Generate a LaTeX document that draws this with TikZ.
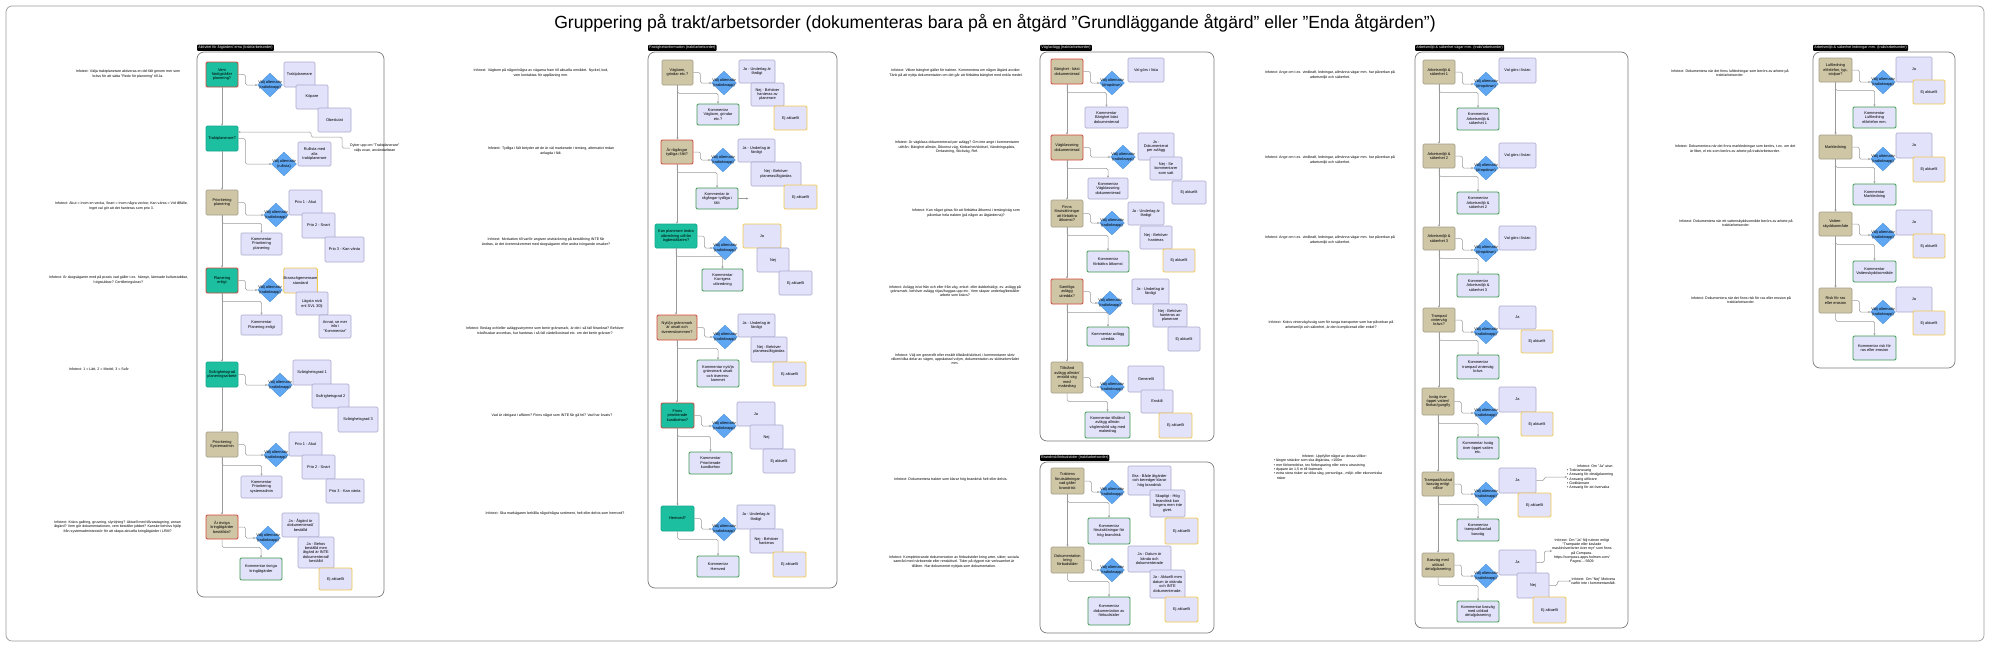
\documentclass[tikz,border=0pt]{standalone}
\usepackage{fontspec}
\setmainfont{Liberation Sans}
\usetikzlibrary{shapes.geometric,arrows.meta,calc}
\definecolor{cteal}{HTML}{1CBFA0}
\definecolor{ctealb}{HTML}{16A78B}
\definecolor{ctan}{HTML}{CFC6A6}
\definecolor{ctanb}{HTML}{A39D88}
\definecolor{cred}{HTML}{D2463A}
\definecolor{clav}{HTML}{E3E2FB}
\definecolor{clavb}{HTML}{A9A7CB}
\definecolor{cyel}{HTML}{F2C94C}
\definecolor{cgreen}{HTML}{3C9A50}
\definecolor{cdia}{HTML}{5FA7F2}
\definecolor{cline}{HTML}{9A9A9A}
\definecolor{cpanel}{HTML}{7A7A7A}
\newcommand{\myboxfont}{\fontsize{3.9}{4.4}\selectfont}
\newcommand{\myinfofont}{\fontsize{3.6}{4.3}\selectfont}
\newcommand{\mylabelfont}{\fontsize{3.7}{4.2}\selectfont}
\tikzset{
 bxbase/.style={draw, line width=0.6pt, rounded corners=1.2pt, align=center, inner sep=0pt, font=\myboxfont},
 qteal/.style={bxbase, fill=cteal, draw=ctealb},
 qtealr/.style={bxbase, fill=cteal, draw=cred, line width=0.9pt},
 qtan/.style={bxbase, fill=ctan, draw=ctanb},
 qtanr/.style={bxbase, fill=ctan, draw=cred, line width=0.9pt},
 opt/.style={bxbase, fill=clav, draw=clavb},
 opty/.style={bxbase, fill=clav, draw=cyel, line width=0.9pt},
 comg/.style={bxbase, fill=clav, draw=cgreen, line width=0.9pt},
 com/.style={bxbase, fill=clav, draw=clavb},
 dia/.style={diamond, draw=cdia!85!black, line width=0.3pt, fill=cdia, minimum width=25pt, minimum height=24pt, inner sep=0pt},
 dtext/.style={font=\myboxfont, align=center, inner sep=0pt},
 con/.style={draw=cline, line width=0.5pt, -{Stealth[length=2.2pt,width=2.2pt]}, rounded corners=1.5pt},
 info/.style={font=\myinfofont, align=center, inner sep=0pt},
 plabel/.style={fill=black, text=white, font=\mylabelfont, inner sep=1.2pt, rounded corners=0.8pt, anchor=south west},
 panel/.style={draw=cpanel, line width=0.7pt, rounded corners=7pt},
}
\newcommand{\bx}[7]{%
 \pgfmathsetmacro{\myW}{#5-#3}%
 \pgfmathsetmacro{\myH}{#6-#4}%
 \pgfmathsetmacro{\myX}{(#3+#5)/2}%
 \pgfmathsetmacro{\myY}{(#4+#6)/2}%
 \node[#2, minimum width=\myW pt, minimum height=\myH pt] (#1) at (\myX,\myY) {#7};}
\newcommand{\dm}[4]{\node[dia] (#1) at (#2,#3) {}; \node[dtext] (#1t) at (#1) {Välj alternativ\\(#4)};}
\newcommand{\qd}[2]{\draw[con] (#1.east) -- ++(7,0) |- (#2.west);}
\newcommand{\qc}[2]{\draw[con] (#1.south) -- ++(0,8) -| (#2.north);}
\newcommand{\qq}[2]{\draw[con] (#1.south) -- (#1.south |- #2.north);}
\newcommand{\inft}[5]{\node[info,#4] (#1) at (#2,#3) {#5};}
\begin{document}
\begin{tikzpicture}[x=1pt,y=-1pt]
\useasboundingbox (0,0) rectangle (1990,654);
\draw[draw=cline, line width=0.7pt, rounded corners=6pt] (6,6) rectangle (1984,641);
\node (title) at (995,23) {\fontsize{17.6}{20}\selectfont Gruppering på trakt/arbetsorder (dokumenteras bara på en åtgärd "Grundläggande åtgärd" eller "Enda åtgärden")};

% ================= Panel 1
\draw[panel] (197,52) rectangle (384,597);
\node[plabel] (p1l) at (197,51) {Aktivitet för åtgärden/-erna (trakt/arbetsorder)};
\bx{a1o1}{opt}{284}{62}{315}{87}{Traktplanerare}
\bx{a1o2}{opt}{296}{85}{328}{109}{Köpare}
\bx{a1o3}{opt}{318}{108}{351}{132}{Obeslutat}
\bx{a1}{qtealr}{206}{62}{238}{87}{Vem\\färdigställer\\planering?}
\dm{a1d}{270}{85}{radioknapp}
\bx{a2o1}{opt}{298}{142}{331}{166}{Rullista med\\alla\\traktplanerare}
\bx{a2}{qteal}{206}{126}{238}{151}{Traktplanerare?}
\dm{a2d}{284}{164}{rullista}
\node[anchor=west, info] (a2n) at (350,148) {Dyker upp om "Traktplanerare"\\väljs ovan, användarlistan};
\bx{a3o1}{opt}{289}{190}{322}{215}{Prio 1 - Akut}
\bx{a3o2}{opt}{302}{213}{335}{238}{Prio 2 - Snart}
\bx{a3o3}{opt}{325}{237}{364}{262}{Prio 3 - Kan vänta}
\bx{a3}{qtan}{206}{190}{238}{215}{Prioritering\\planering}
\dm{a3d}{276}{215}{radioknapp}
\bx{a3c}{com}{241}{233}{282}{255}{Kommentar\\Prioritering\\planering}
\bx{a4o1}{opty}{284}{268}{317}{293}{Branschgemensam\\standard}
\bx{a4o2}{opt}{296}{292}{328}{315}{Lägsta nivå\\enl SVL 30§}
\bx{a4o3}{opt}{319}{315}{351}{338}{Annat, se mer\\info i\\"Kommentar"}
\bx{a4}{qtealr}{206}{268}{238}{293}{Planering\\enligt}
\dm{a4d}{270}{290}{radioknapp}
\bx{a4c}{com}{241}{315}{282}{335}{Kommentar\\Planering enligt}
\bx{a5o1}{opt}{293}{360}{331}{385}{Svårighetsgrad 1}
\bx{a5o2}{opt}{312}{384}{349}{408}{Svårighetsgrad 2}
\bx{a5o3}{opt}{338}{407}{378}{432}{Svårighetsgrad 3}
\bx{a5}{qteal}{206}{362}{238}{387}{Svårighetsgrad\\planeringsarbete}
\dm{a5d}{280}{385}{radioknapp}
\bx{a6o1}{opt}{289}{432}{322}{456}{Prio 1 - Akut}
\bx{a6o2}{opt}{302}{455}{335}{479}{Prio 2 - Snart}
\bx{a6o3}{opt}{326}{479}{364}{503}{Prio 3 - Kan vänta}
\bx{a6}{qtan}{206}{432}{238}{457}{Prioritering\\Systemadmin}
\dm{a6d}{276}{455}{radioknapp}
\bx{a6c}{com}{241}{476}{282}{498}{Kommentar\\Prioritering\\systemadmin}
\bx{a7o1}{opt}{282}{513}{319}{537}{Ja - Åtgärd är\\dokumenterad/\\beställd}
\bx{a7o2}{opt}{298}{537}{334}{568}{Ja - Behov\\beställd men\\åtgärd är INTE\\dokumenterad/\\beställd}
\bx{a7o3}{opty}{319}{568}{352}{590}{Ej aktuellt}
\bx{a7}{qtanr}{206}{515}{238}{539}{Är övriga\\kringåtgärder\\beställda?}
\dm{a7d}{268}{538}{radioknapp}
\bx{a7c}{comg}{240}{558}{282}{580}{Kommentar övriga\\kringåtgärder}
\qq{a1}{a2}\qq{a2}{a3}\qq{a3}{a4}\qq{a4}{a5}\qq{a5}{a6}\qq{a6}{a7}
\qd{a1}{a1d}\qd{a2}{a2d}\qd{a3}{a3d}\qd{a4}{a4d}\qd{a5}{a5d}\qd{a6}{a6d}\qd{a7}{a7d}
\qc{a3}{a3c}\qc{a4}{a4c}\qc{a6}{a6c}\qc{a7}{a7c}
\coordinate (k1) at (0,132);
\draw[con] (a2n.west) -- (342,148) -- (342,137) -- (311,137) -- (311,132) -- (a2.east |- k1);

% text column 1
\inft{t1a}{128}{74}{}{Infotext: Välja traktplanerare aktiveras en del fält genom mer som\\krävs för att sätta "Redo för planering" till Ja.}
\inft{t1b}{188}{206}{anchor=east}{Infotext: Akut = Inom en vecka, Snart = Inom några veckor, Kan vänta = Vid tillfälle.\\Inget val gör att det hanteras som prio 3.}
\inft{t1c}{188}{280}{anchor=east}{Infotext: Är skogsägaren med på praxis vad gäller t.ex. hänsyn, lämnade kulturstubbar,\\högstubbar? Certifieringskrav?}
\inft{t1d}{99}{369}{}{Infotext: 1 = Lätt, 2 = Medel, 3 = Svår}
\inft{t1e}{181}{527}{anchor=east}{Infotext: Krävs gallring, gruvning, slyröjning? Aktuell med tillvaratagning, annan\\åtgärd? Vem gör dokumentationen, vem beställer jobbet? Kanske behövs hjälp\\från systemadministratör för att skapa aktuella kringåtgärder i LRM?}

% text column 2
\inft{t2a}{541}{73}{}{Infotext: Vägbom på någon/några av vägarna fram till aktuella området. Nyckel, kod,\\vem kontaktas för upplåsning mm.}
\inft{t2b}{551}{151}{}{Infotext: Tydliga i fält betyder att de är väl markerade i terräng, alternativt redan\\anlagda i fält.}
\inft{t2c}{546}{242}{}{Infotext: Motivation till varför angiven utsträckning på beställning INTE får\\ändras, är det överenskommet med skogsägaren eller andra tvingande orsaker?}
\inft{t2d}{545}{331}{}{Infotext: Beslag och/eller avläggsutrymme som berör gränsmark, är det i så fall förankrat? Behöver\\träd/buskar avverkas, hur hanteras i så fall värde/kostnad etc. om det berör gränser?}
\inft{t2e}{552}{415}{}{Vad är viktigast i affären? Finns något som INTE får gå fel? Vad har lovats?}
\inft{t2f}{555}{513}{}{Infotext: Ska markägaren behålla något/några sortiment, helt eller delvis som hemved?}

% ================= Panel 2
\draw[panel] (648,52) rectangle (837,588);
\node[plabel] (p2l) at (648,51) {Fastighetsinformation (trakt/arbetsorder)};
\bx{b1o1}{opt}{739}{60}{775}{83}{Ja - Underlag är\\färdigt}
\bx{b1o2}{opt}{751}{83}{784}{106}{Nej - Behöver\\hanteras av\\planerare}
\bx{b1o3}{opty}{774}{106}{807}{130}{Ej aktuellt}
\bx{b1}{qtan}{662}{60}{693}{85}{Vägbom,\\grindar etc.?}
\dm{b1d}{724}{83}{radioknapp}
\bx{b1c}{comg}{697}{104}{739}{125}{Kommentar\\Vägbom, grindar\\etc.?}
\bx{b2o1}{opt}{738}{139}{775}{162}{Ja - Underlag är\\färdigt}
\bx{b2o2}{opt}{751}{162}{801}{186}{Nej - Behöver\\planeras/åtgärdas}
\bx{b2o3}{opty}{784}{185}{817}{209}{Ej aktuellt}
\bx{b2}{qtanr}{661}{140}{693}{164}{Är rågångar\\tydliga i fält?}
\dm{b2d}{723}{160}{radioknapp}
\bx{b2c}{comg}{696}{188}{738}{209}{Kommentar är\\rågångar tydliga i\\fält}
\coordinate (b2ce) at ($(b2c.east)+(10,0)$);
\draw[con] (b2c.east) -- (b2ce);
\bx{b3o1}{opty}{743}{224}{781}{248}{Ja}
\bx{b3o2}{opt}{757}{248}{789}{272}{Nej}
\bx{b3o3}{opt}{779}{271}{812}{295}{Ej aktuellt}
\bx{b3}{qteal}{655}{224}{697}{248}{Kan planerare ändra\\utbredning utifrån\\lagbeställaren?}
\dm{b3d}{725}{248}{radioknapp}
\bx{b3c}{comg}{702}{269}{743}{291}{Kommentar\\Korrigera\\utbredning}
\bx{b4o1}{opt}{738}{314}{775}{337}{Ja - Underlag är\\färdigt}
\bx{b4o2}{opt}{751}{337}{787}{362}{Nej - Behöver\\planeras/åtgärdas}
\bx{b4o3}{opty}{773}{362}{806}{386}{Ej aktuellt}
\bx{b4}{qtanr}{657}{315}{697}{340}{Nytt/ja gränsmark\\är utsatt och\\överenskommen?}
\dm{b4d}{725}{337}{radioknapp}
\bx{b4c}{comg}{697}{360}{739}{387}{Kommentar nytt/ja\\gränsmark utsatt\\och överens-\\kommet}
\bx{b5o1}{opt}{737}{402}{775}{426}{Ja}
\bx{b5o2}{opt}{750}{425}{783}{449}{Nej}
\bx{b5o3}{opt}{763}{449}{795}{473}{Ej aktuellt}
\bx{b5}{qtealr}{661}{403}{694}{428}{Finns\\prioriterade\\kundbehov?}
\dm{b5d}{724}{426}{radioknapp}
\bx{b5c}{comg}{689}{452}{732}{474}{Kommentar\\Prioriterade\\kundbehov}
\bx{b6o1}{opt}{737}{505}{775}{529}{Ja - Underlag är\\färdigt}
\bx{b6o2}{opt}{750}{529}{783}{553}{Nej - Behöver\\hanteras}
\bx{b6o3}{opty}{773}{552}{806}{577}{Ej aktuellt}
\bx{b6}{qteal}{661}{506}{694}{531}{Hemved?}
\dm{b6d}{724}{529}{radioknapp}
\bx{b6c}{comg}{697}{556}{739}{577}{Kommentar\\Hemved}
\qq{b1}{b2}\qq{b2}{b3}\qq{b3}{b4}\qq{b4}{b5}\qq{b5}{b6}
\qd{b1}{b1d}\qd{b2}{b2d}\qd{b3}{b3d}\qd{b4}{b4d}\qd{b5}{b5d}\qd{b6}{b6d}
\qc{b1}{b1c}\qc{b2}{b2c}\qc{b3}{b3c}\qc{b4}{b4c}\qc{b5}{b5c}\qc{b6}{b6c}

% text column 3
\inft{t3a}{956}{73}{}{Infotext: Vilken bärighet gäller för trakten. Kommentera om någon åtgärd avviker.\\Tänk på att nyttja dokumentation om det går att förbättra bärighet med enkla medel.}
\inft{t3b}{957}{147}{}{Infotext: Är vägklass dokumenterad per avlägg? Om inte ange i kommentaren\\utifrån: Bärighet allmän, Åtkomst väg, Körbarhet/skötsel, Vändningsplats,\\Omlastning, Stickväg, Ref.}
\inft{t3c}{966}{213}{}{Infotext: Kan något göras för att förbättra åtkomst i terräng/väg som\\påverkar hela trakten (på någon av åtgärderna)?}
\inft{t3d}{955}{291}{}{Infotext: Avlägg in/ut från och eller från väg, enkel- eller dubbelsidigt, ev. avlägg på\\gränsmark, behöver avlägg röjas/huggas upp etc. Vem skapar underlag/beställer\\arbete som krävs?}
\inft{t3e}{955}{359}{}{Infotext: Välj om generellt eller enskilt tillstånd/skötsel, i kommentaren skriv\\vilken/vilka delar av vägen, uppskattad volym, dokumentation av skötselområdet\\mm.}
\inft{t3f}{951}{480}{}{Infotext: Dokumentera trakter som klarar hög brandrisk helt eller delvis.}
\inft{t3g}{954}{562}{}{Infotext: Kompletterande dokumentation av förbudstider kring arter, sikter, sociala\\samråd med närboende eller renskötsel. Tider på dygnet när verksamhet är\\tillåten. Har dokumentet nyttjats som dokumentation.}

% ================= Panel 3
\draw[panel] (1040,52) rectangle (1214,441);
\node[plabel] (p3l) at (1040,51) {Väg/avlägg (trakt/arbetsorder)};
\bx{c1o1}{opt}{1128}{58}{1164}{82}{Val görs i lista}
\bx{c1}{qtanr}{1051}{59}{1083}{84}{Bärighet - bäst\\dokumenterad}
\dm{c1d}{1112}{83}{dropdown}
\bx{c1c}{com}{1085}{107}{1128}{128}{Kommentar\\Bärighet bäst\\dokumenterad}
\bx{c2o1}{opt}{1138}{133}{1174}{160}{Ja -\\Dokumenterat\\per avlägg}
\bx{c2o2}{opt}{1150}{157}{1182}{180}{Nej - Se\\kommentarer\\som satt}
\bx{c2o3}{opt}{1172}{181}{1206}{204}{Ej aktuellt}
\bx{c2}{qtanr}{1051}{135}{1083}{160}{Vägklassning\\dokumenterad}
\dm{c2d}{1123}{157}{radioknapp}
\bx{c2c}{com}{1088}{178}{1128}{199}{Kommentar\\Vägklassning\\dokumenterad}
\bx{c3o1}{opt}{1128}{202}{1164}{225}{Ja - Underlag är\\färdigt}
\bx{c3o2}{opt}{1140}{226}{1172}{249}{Nej - Behöver\\hanteras}
\bx{c3o3}{opty}{1163}{249}{1195}{272}{Ej aktuellt}
\bx{c3}{qtan}{1051}{200}{1083}{227}{Finns\\förutsättningar\\att förbättra\\åtkomst?}
\dm{c3d}{1112}{223}{radioknapp}
\bx{c3c}{comg}{1087}{251}{1129}{272}{Kommentar\\förbättra åtkomst}
\bx{c4o1}{opt}{1132}{279}{1169}{304}{Ja - Underlag är\\färdigt}
\bx{c4o2}{opt}{1153}{304}{1187}{327}{Nej - Behöver\\hanteras av\\planerare}
\bx{c4o3}{opt}{1168}{327}{1200}{351}{Ej aktuellt}
\bx{c4}{qtanr}{1051}{279}{1083}{304}{Samtliga\\avlägg\\utredda?}
\dm{c4d}{1110}{303}{radioknapp}
\bx{c4c}{comg}{1087}{327}{1129}{346}{Kommentar avlägg\\utredda}
\bx{c5o1}{opt}{1128}{366}{1164}{392}{Generellt}
\bx{c5o2}{opt}{1141}{390}{1173}{413}{Enskilt}
\bx{c5o3}{opty}{1159}{413}{1192}{438}{Ej aktuellt}
\bx{c5}{qtan}{1051}{362}{1083}{393}{Tillstånd\\avlägg allmän/\\enskild väg\\med\\makedrag}
\dm{c5d}{1112}{387}{radioknapp}
\bx{c5c}{comg}{1085}{412}{1130}{438}{Kommentar tillstånd\\avlägg allmän\\väg/enskild väg med\\makedrag}
\qq{c1}{c2}\qq{c2}{c3}\qq{c3}{c4}\qq{c4}{c5}
\qd{c1}{c1d}\qd{c2}{c2d}\qd{c3}{c3d}\qd{c4}{c4d}\qd{c5}{c5d}
\qc{c1}{c1c}\qc{c2}{c2c}\qc{c3}{c3c}\qc{c4}{c4c}\qc{c5}{c5c}

% ================= Panel 3b
\draw[panel] (1040,462) rectangle (1214,633);
\node[plabel] (p3bl) at (1040,461) {Brandrisk/förbudstider (trakt/arbetsorder)};
\bx{c6o1}{opt}{1128}{466}{1171}{495}{Bra - Både åtgärder\\och beredger klarar\\hög brandrisk}
\bx{c6o2}{opt}{1150}{490}{1185}{517}{Skapligt - Hög\\brandrisk kan\\fungera men inte\\givet.}
\bx{c6o3}{opty}{1165}{518}{1198}{544}{Ej aktuellt}
\bx{c6}{qtan}{1051}{468}{1084}{494}{Traktens\\förutsättningar\\vad gäller\\brandrisk}
\dm{c6d}{1112}{492}{radioknapp}
\bx{c6c}{comg}{1088}{518}{1130}{544}{Kommentar\\förutsättningar för\\hög brandrisk}
\bx{c7o1}{opt}{1128}{546}{1171}{572}{Ja - Datum är\\kända och\\dokumenterade}
\bx{c7o2}{opt}{1150}{570}{1185}{598}{Ja - Aktuellt men\\datum är okända\\och INTE\\dokumenterade.}
\bx{c7o3}{opty}{1165}{597}{1198}{622}{Ej aktuellt}
\bx{c7}{qtan}{1051}{547}{1084}{573}{Dokumentation\\kring\\förbudstider}
\dm{c7d}{1112}{570}{radioknapp}
\bx{c7c}{comg}{1088}{597}{1130}{625}{Kommentar\\dokumentation av\\förbudstider}
\qq{c6}{c7}
\qd{c6}{c6d}\qd{c7}{c7d}
\qc{c6}{c6c}\qc{c7}{c7c}

% text column 4
\inft{t4a}{1330}{75}{}{Infotext: Ange om t.ex. vindkraft, ledningar, allmänna vägar mm. har påverkan på\\arbetsmiljö och säkerhet.}
\inft{t4b}{1330}{160}{}{Infotext: Ange om t.ex. vindkraft, ledningar, allmänna vägar mm. har påverkan på\\arbetsmiljö och säkerhet.}
\inft{t4c}{1330}{240}{}{Infotext: Ange om t.ex. vindkraft, ledningar, allmänna vägar mm. har påverkan på\\arbetsmiljö och säkerhet.}
\inft{t4d}{1331}{325}{}{Infotext: Krävs vinterväg/isväg som för tunga transporter som har påverkan på\\arbetsmiljö och säkerhet, är den komplicerad eller enkel?}
\node[info, align=left] (t4e) at (1328,467) {\hspace*{28pt}Infotext: Uppfyller något av dessa villkor:\\• längre sträckor som ska åtgärdas, >100m\\• mer förberedelse, tex förbesparing eller extra utrustning\\• djupare än 1,5 m till fastmark\\• extra stora risker av olika slag, personliga-, miljö- eller ekonomiska\\\hspace*{3pt}risker};

% ================= Panel 4
\draw[panel] (1415,52) rectangle (1628,628);
\node[plabel] (p4l) at (1415,51) {Arbetsmiljö \& säkerhet vägar mm. (trakt/arbetsorder)};
\bx{d1o1}{opt}{1499}{58}{1536}{83}{Val görs i listan}
\bx{d1}{qtan}{1423}{60}{1455}{84}{Arbetsmiljö \&\\säkerhet 1}
\dm{d1d}{1486}{84}{dropdown}
\bx{d1c}{comg}{1457}{108}{1499}{130}{Kommentar\\Arbetsmiljö \&\\säkerhet 1}
\bx{d2o1}{opt}{1499}{143}{1536}{168}{Val görs i listan}
\bx{d2}{qtan}{1423}{144}{1455}{168}{Arbetsmiljö \&\\säkerhet 2}
\dm{d2d}{1486}{168}{dropdown}
\bx{d2c}{comg}{1457}{192}{1499}{214}{Kommentar\\Arbetsmiljö \&\\säkerhet 2}
\bx{d3o1}{opt}{1499}{226}{1536}{250}{Val görs i listan}
\bx{d3}{qtan}{1423}{227}{1455}{250}{Arbetsmiljö \&\\säkerhet 3}
\dm{d3d}{1486}{250}{dropdown}
\bx{d3c}{comg}{1457}{274}{1499}{297}{Kommentar\\Arbetsmiljö \&\\säkerhet 3}
\bx{d4o1}{opt}{1499}{306}{1536}{329}{Ja}
\bx{d4o2}{opty}{1521}{330}{1553}{353}{Ej aktuellt}
\bx{d4}{qtan}{1423}{308}{1455}{332}{Trampad\\vinterväg\\krävs?}
\dm{d4d}{1486}{332}{radioknapp}
\bx{d4c}{comg}{1457}{355}{1499}{379}{Kommentar\\trampad vinterväg\\krävs}
\bx{d5o1}{opt}{1499}{387}{1536}{412}{Ja}
\bx{d5o2}{opty}{1521}{412}{1553}{436}{Ej aktuellt}
\bx{d5}{qtan}{1422}{388}{1454}{415}{Isväg över\\öppet vatten/\\flarkar/gungfly}
\dm{d5d}{1486}{413}{radioknapp}
\bx{d5c}{comg}{1457}{437}{1499}{459}{Kommentar Isväg\\över öppet vatten\\etc.}
\bx{d6o1}{opt}{1499}{468}{1536}{493}{Ja}
\bx{d6o2}{opty}{1518}{493}{1551}{517}{Ej aktuellt}
\bx{d6}{qtan}{1422}{472}{1454}{496}{Trampad/kavlad\\basväg enligt\\villkor}
\dm{d6d}{1486}{494}{radioknapp}
\bx{d6c}{comg}{1457}{519}{1499}{541}{Kommentar\\trampad/kavlad\\basväg}
\node[info, align=left, anchor=west] (d6n) at (1567,477) {\hspace*{10pt}Infotext: Om "Ja" utse:\\• Traktansvarig\\• Ansvarig för detaljplanering\\• Ansvarig utförare\\• Godkännare\\• Ansvarig för att övervaka};
\bx{d7o1}{opt}{1499}{550}{1536}{575}{Ja}
\bx{d7o2}{opt}{1517}{573}{1549}{598}{Nej}
\bx{d7o3}{opty}{1533}{597}{1566}{623}{Ej aktuellt}
\bx{d7}{qtan}{1422}{553}{1454}{577}{Basväg med\\utökad\\detaljplanering}
\dm{d7d}{1486}{576}{radioknapp}
\bx{d7c}{comg}{1457}{601}{1499}{622}{Kommentar basväg\\med utökad\\detaljplanering}
\node[info, anchor=west] (d7n) at (1552,551) {Infotext: Om "Ja" följ rutinen enligt\\"Trampade eller kavlade\\maskinöverfarter över myr" som finns\\på Compass.\\https://compass.apps.holmen.com/\\Pages/...-5609};
\node[info, anchor=west] (d7m) at (1571,581) {Infotext: Om "Nej" Motivera\\varför inte i kommentarsfält.};
\qq{d1}{d2}\qq{d2}{d3}\qq{d3}{d4}\qq{d4}{d5}\qq{d5}{d6}\qq{d6}{d7}
\qd{d1}{d1d}\qd{d2}{d2d}\qd{d3}{d3d}\qd{d4}{d4d}\qd{d5}{d5d}\qd{d6}{d6d}\qd{d7}{d7d}
\qc{d1}{d1c}\qc{d2}{d2c}\qc{d3}{d3c}\qc{d4}{d4c}\qc{d5}{d5c}\qc{d6}{d6c}\qc{d7}{d7c}
\draw[con] (d6o1.east) -- ++(8,0) |- (d6n.west);
\draw[con] (d7o1.east) -- ++(8,0) |- (d7n.west);
\draw[con] (d7o2.east) -- ++(8,0) |- (d7m.west);

% text column 5
\inft{t5a}{1730}{73}{}{Infotext: Dokumentera när det finns luftledningar som berörs av arbete på\\trakt/arbetsorder.}
\inft{t5b}{1735}{149}{}{Infotext: Dokumentera när det finns markledningar som berörs, t.ex. om det\\är fiber, el etc som berörs av arbete på trakt/arbetsorder.}
\inft{t5c}{1736}{223}{}{Infotext: Dokumentera när ett vattenskyddsområde berörs av arbete på\\trakt/arbetsorder.}
\inft{t5d}{1741}{300}{}{Infotext: Dokumentera när det finns risk för ras eller erosion på\\trakt/arbetsorder.}

% ================= Panel 5
\draw[panel] (1813,52) rectangle (1955,368);
\node[plabel] (p5l) at (1813,51) {Arbetsmiljö \& säkerhet ledningar mm. (trakt/arbetsorder)};
\bx{e1o1}{opt}{1896}{57}{1932}{82}{Ja}
\bx{e1o2}{opty}{1913}{80}{1945}{104}{Ej aktuellt}
\bx{e1}{qtan}{1819}{58}{1852}{82}{Luftledning\\el/telefon, typ,\\stolpar?}
\dm{e1d}{1883}{82}{radioknapp}
\bx{e1c}{comg}{1853}{107}{1896}{128}{Kommentar\\Luftledning\\el/telefon mm.}
\bx{e2o1}{opt}{1896}{133}{1932}{158}{Ja}
\bx{e2o2}{opty}{1913}{157}{1945}{182}{Ej aktuellt}
\bx{e2}{qtan}{1819}{135}{1852}{159}{Markledning}
\dm{e2d}{1883}{159}{radioknapp}
\bx{e2c}{comg}{1853}{184}{1896}{205}{Kommentar\\Markledning}
\bx{e3o1}{opt}{1896}{210}{1932}{235}{Ja}
\bx{e3o2}{opty}{1913}{234}{1945}{258}{Ej aktuellt}
\bx{e3}{qtan}{1819}{212}{1852}{236}{Vatten-\\skyddsområde}
\dm{e3d}{1883}{235}{radioknapp}
\bx{e3c}{comg}{1853}{261}{1896}{282}{Kommentar\\Vattenskyddsområde}
\bx{e4o1}{opt}{1896}{287}{1932}{312}{Ja}
\bx{e4o2}{opty}{1913}{311}{1945}{335}{Ej aktuellt}
\bx{e4}{qtan}{1819}{288}{1852}{313}{Risk för ras\\eller erosion}
\dm{e4d}{1883}{312}{radioknapp}
\bx{e4c}{comg}{1853}{336}{1896}{360}{Kommentar risk för\\ras eller erosion}
\qq{e1}{e2}\qq{e2}{e3}\qq{e3}{e4}
\qd{e1}{e1d}\qd{e2}{e2d}\qd{e3}{e3d}\qd{e4}{e4d}
\qc{e1}{e1c}\qc{e2}{e2c}\qc{e3}{e3c}\qc{e4}{e4c}
\end{tikzpicture}
\end{document}
